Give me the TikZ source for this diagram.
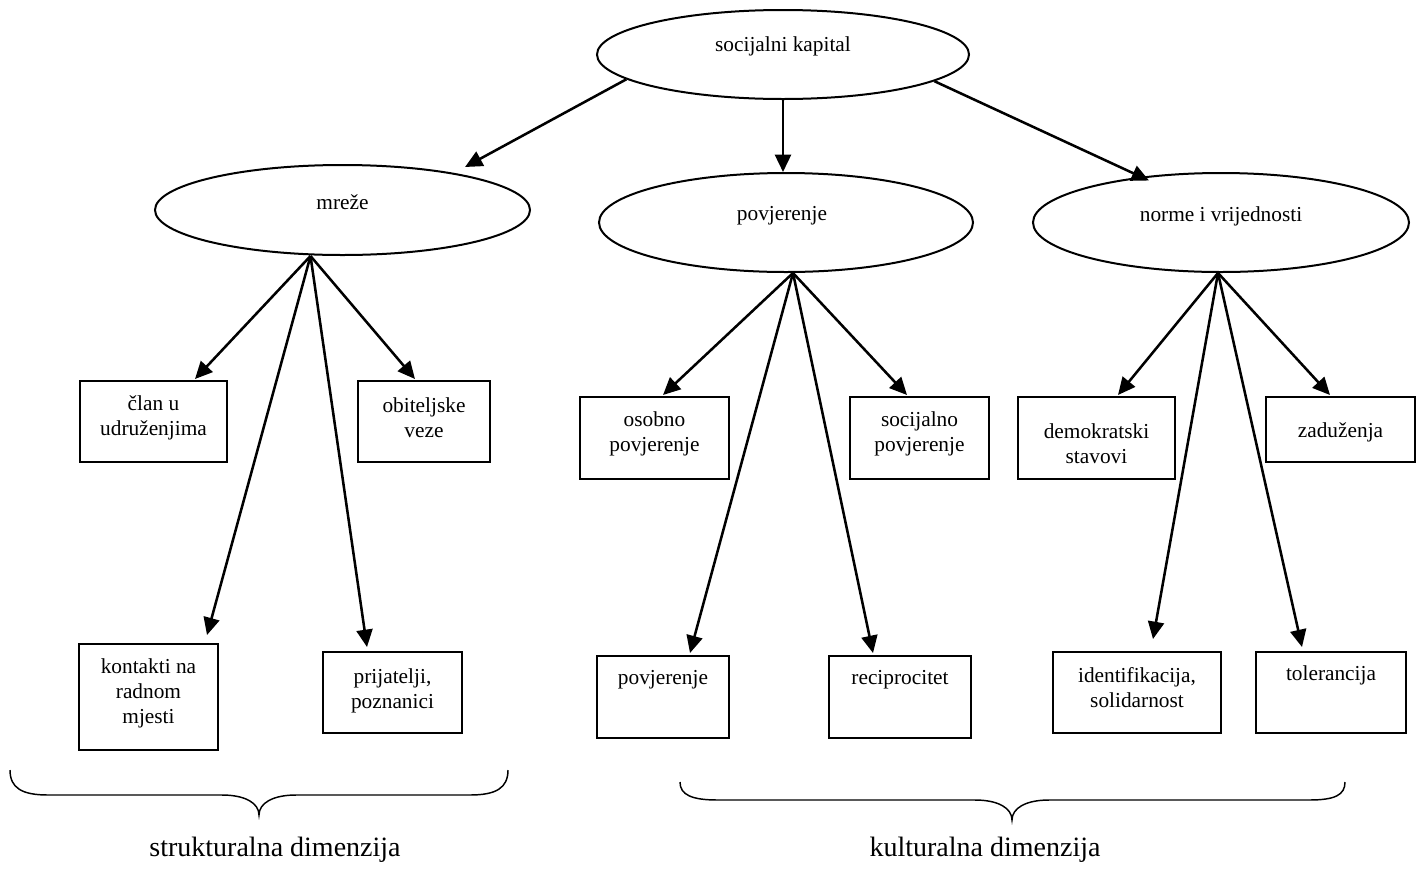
\documentclass[tikz,border=0pt]{standalone}
\usepackage{fontspec}
\setmainfont{Liberation Serif}
\usetikzlibrary{shapes.geometric,arrows.meta,calc}
\begin{document}
\begin{tikzpicture}[x=0.75pt,y=-0.75pt,
  ell/.style={draw,ellipse,line width=1.5pt,inner sep=0pt},
  box/.style={draw,rectangle,line width=1.5pt,inner sep=0pt},
  txt/.style={align=center,font=\fontsize{16}{18.75}\selectfont,inner sep=0pt},
  arr/.style={line width=1.9pt,-{Triangle[length=13pt,width=12pt]}},
  brc/.style={line width=1.1pt},
  lbl/.style={font=\fontsize{21}{25}\selectfont,inner sep=0pt}]
\useasboundingbox (0,0) rectangle (1417,879);

% ellipses
\node[ell,minimum width=279pt,minimum height=66.75pt] (soc) at (783,54.5) {};
\node[ell,minimum width=281.25pt,minimum height=67.5pt] (mreze) at (342.5,210) {};
\node[ell,minimum width=280.5pt,minimum height=74.25pt] (pov) at (786,222.5) {};
\node[ell,minimum width=282pt,minimum height=74.25pt] (norme) at (1221,222.5) {};
\node[txt] (tsoc) at (783,46) {socijalni kapital};
\node[txt] (tmreze) at (342.5,202) {mreže};
\node[txt] (tpov) at (782,216) {povjerenje};
\node[txt] (tnorme) at (1221,216) {norme i vrijednosti};

% boxes
\node[box,minimum width=110.25pt,minimum height=60.75pt] (clan) at (153.5,421.5) {};
\node[box,minimum width=99pt,minimum height=60.75pt] (obit) at (424,421.5) {};
\node[box,minimum width=104.25pt,minimum height=79.5pt] (kont) at (148.5,697) {};
\node[box,minimum width=104.25pt,minimum height=60.75pt] (prij) at (392.5,692.5) {};
\node[box,minimum width=111.75pt,minimum height=61.5pt] (osob) at (654.5,438) {};
\node[box,minimum width=104.25pt,minimum height=61.5pt] (socp) at (919.5,438) {};
\node[box,minimum width=99pt,minimum height=61.5pt] (povb) at (663,697) {};
\node[box,minimum width=106.5pt,minimum height=61.5pt] (reci) at (900,697) {};
\node[box,minimum width=117.75pt,minimum height=61.5pt] (demo) at (1096.5,438) {};
\node[box,minimum width=111.75pt,minimum height=48.75pt] (zadu) at (1340.5,429.5) {};
\node[box,minimum width=126pt,minimum height=60.75pt] (iden) at (1137,692.5) {};
\node[box,minimum width=112.5pt,minimum height=60.75pt] (tole) at (1331,692.5) {};

\node[txt] (tclan) at (153.5,418) {član u\\udruženjima};
\node[txt] (tobit) at (424,418) {obiteljske\\veze};
\node[txt] (tkont) at (148.5,693) {kontakti na\\radnom\\mjesti};
\node[txt] (tprij) at (392.5,691) {prijatelji,\\poznanici};
\node[txt] (tosob) at (654.5,434) {osobno\\povjerenje};
\node[txt] (tsocp) at (919.5,434) {socijalno\\povjerenje};
\node[txt] (tpovb) at (663,680) {povjerenje};
\node[txt] (treci) at (900,680) {reciprocitet};
\node[txt] (tdemo) at (1096.5,444) {demokratski\\stavovi};
\node[txt] (tzadu) at (1340.5,432) {zaduženja};
\node[txt] (tiden) at (1137,688) {identifikacija,\\solidarnost};
\node[txt] (ttole) at (1331,675) {tolerancija};

% apex points
\coordinate (ma) at ($(mreze.south)+(-32,0)$);
\coordinate (pa) at ($(pov.south)+(7,0)$);
\coordinate (na) at ($(norme.south)+(-3,0)$);

% top arrows
\draw[arr] (soc.189) -- ($(mreze.center)+(122.5,-43)$);
\draw[arr] (soc.south) -- (soc.south |- pov.north);
\draw[arr] (soc.350) -- ($(norme.center)+(-72,-42)$);

% mreze arrows
\draw[arr] (ma) -- ($(clan.north)+(41.5,-1)$);
\draw[arr] (ma) -- ($(obit.north)+(-9,-1)$);
\draw[arr] (ma) -- ($(kont.north)+(58.5,-8)$);
\draw[arr] (ma) -- ($(prij.north)+(-25.5,-4)$);

% povjerenje arrows
\draw[arr] (pa) -- ($(osob.north)+(8.5,-1)$);
\draw[arr] (pa) -- ($(socp.north)+(-12.5,-1)$);
\draw[arr] (pa) -- ($(povb.north)+(27,-2)$);
\draw[arr] (pa) -- ($(reci.north)+(-27,-2)$);

% norme arrows
\draw[arr] (na) -- ($(demo.north)+(21.5,-1)$);
\draw[arr] (na) -- ($(zadu.north)+(-10.5,-1)$);
\draw[arr] (na) -- ($(iden.north)+(16,-12)$);
\draw[arr] (na) -- ($(tole.north)+(-29,-4)$);

% braces
\draw[brc] (10,770) .. controls (10,788) and (22,795) .. (48,795) -- (222,795)
  .. controls (245,795) and (259,803) .. (259,815)
  .. controls (259,803) and (273,795) .. (296,795) -- (470,795)
  .. controls (496,795) and (508,788) .. (508,770);
\draw[brc] (680,782) .. controls (680,795) and (692,800) .. (718,800) -- (975,800)
  .. controls (998,800) and (1012,808) .. (1012,820)
  .. controls (1012,808) and (1026,800) .. (1049,800) -- (1309,800)
  .. controls (1335,800) and (1345,795) .. (1345,782);

\node[lbl] (strukt) at (275,850) {strukturalna dimenzija};
\node[lbl] (kult) at (985,850) {kulturalna dimenzija};
\end{tikzpicture}
\end{document}
